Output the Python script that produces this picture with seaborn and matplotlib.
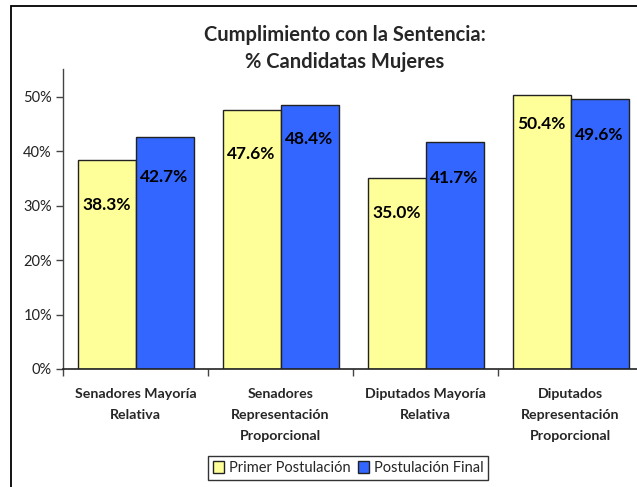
import pandas as pd
import numpy as np
import matplotlib
matplotlib.use('Agg')
import matplotlib.pyplot as plt
from matplotlib.patches import Rectangle
from matplotlib.ticker import PercentFormatter, FixedLocator
import seaborn as sns

# data
categorias = ['Senadores Mayoría\nRelativa',
              'Senadores\nRepresentación\nProporcional',
              'Diputados Mayoría\nRelativa',
              'Diputados\nRepresentación\nProporcional']
primer = [0.383, 0.476, 0.350, 0.504]
final = [0.427, 0.484, 0.417, 0.496]
series = ['Primer Postulación', 'Postulación Final']

# how far below the bar top each value label sits (points), per series
label_drop = [[32, 31.5, 25, 21], [29, 24, 26, 26]]

df = pd.DataFrame({
    'categoria': categorias * 2,
    'serie': [series[0]] * 4 + [series[1]] * 4,
    'valor': primer + final,
})

sns.set_style('white')
plt.rcParams['font.family'] = ['Lato', 'DejaVu Sans']

fig = plt.figure(figsize=(6.37, 4.87), dpi=100)
ax = fig.add_axes([63/637, 1 - 369/487, 580/637, (369 - 69)/487])

sns.barplot(data=df, x='categoria', y='valor', hue='serie',
            palette=['#FFFF99', '#3366FF'], saturation=1,
            edgecolor='#222222', linewidth=1.0, width=0.8, ax=ax,
            legend=True)

# value labels inside the bar tops
for cont, drops in zip(ax.containers, label_drop):
    for bar, d in zip(cont, drops):
        h = bar.get_height()
        ax.annotate(f'{h*100:.1f}%', (bar.get_x() + bar.get_width()/2, h),
                    xytext=(0, -d), textcoords='offset points',
                    ha='center', va='center', fontsize=12.5, fontweight='bold',
                    color='black')

ax.set_ylim(0, 0.551)
ax.set_xlim(-0.5, 3.5)
ax.yaxis.set_major_locator(FixedLocator([0, 0.1, 0.2, 0.3, 0.4, 0.5]))
ax.yaxis.set_major_formatter(PercentFormatter(1.0, decimals=0))
ax.tick_params(axis='y', which='major', left=True, length=5, width=1,
               color='#444444', labelsize=10.5, pad=3, labelcolor='#222222')
ax.tick_params(axis='x', which='major', length=0, pad=14, labelsize=10.2)
for lab in ax.get_xticklabels():
    lab.set_fontweight('bold')
    lab.set_linespacing(1.9)
    lab.set_va('top')
ax.xaxis.set_minor_locator(FixedLocator([-0.5, 0.5, 1.5, 2.5, 3.5]))
ax.tick_params(axis='x', which='minor', bottom=True, length=5, width=1,
               color='#444444')
ax.set_xlabel('')
ax.set_ylabel('')
for s in ['top', 'right']:
    ax.spines[s].set_visible(False)
ax.spines['left'].set_color('#444444')
ax.spines['bottom'].set_color('#222222')
ax.spines['left'].set_linewidth(1)
ax.spines['bottom'].set_linewidth(1.2)

leg = ax.legend(loc='center', bbox_to_anchor=(348/637, 1 - 468/487),
                bbox_transform=fig.transFigure, ncol=2, frameon=True,
                fancybox=False, edgecolor='black', fontsize=10.5,
                handlelength=0.8, handleheight=0.8, handletextpad=0.3,
                columnspacing=0.5, borderpad=0.35, borderaxespad=0)
leg.get_frame().set_linewidth(1)

fig.text(345/637, 1 - 35/487, 'Cumplimiento con la Sentencia:', ha='center',
         va='center', fontsize=14.5, fontweight='bold')
fig.text(345/637, 1 - 62/487, '% Candidatas Mujeres', ha='center',
         va='center', fontsize=14.5, fontweight='bold')

fig.patches.append(Rectangle((11/637, -0.1), 1.2, 1.1 - 6/487,
                             transform=fig.transFigure, fill=False,
                             edgecolor='black', linewidth=1.3))

fig.savefig('out.png', dpi=100)
